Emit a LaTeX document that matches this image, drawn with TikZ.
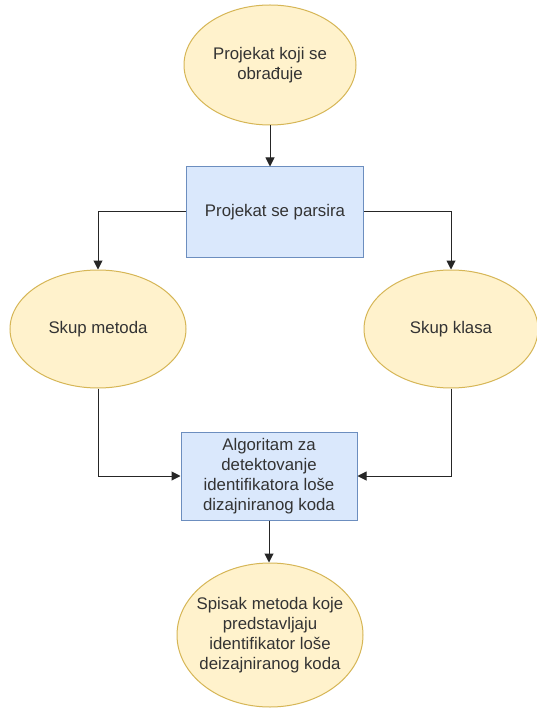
\documentclass[tikz,border=0pt]{standalone}
\usepackage{fontspec}
\setmainfont{Liberation Sans}
\usetikzlibrary{shapes.geometric,arrows.meta}
\definecolor{yfill}{HTML}{FFF2CC}
\definecolor{ydraw}{HTML}{D6B656}
\definecolor{bfill}{HTML}{DAE8FC}
\definecolor{bdraw}{HTML}{6C8EBF}
\definecolor{txt}{HTML}{333333}
\tikzset{
  lbl/.style={text=txt, align=center, inner sep=0pt, font=\fontsize{16.8}{20}\selectfont},
  yell/.style={ellipse, draw=ydraw, fill=yfill, line width=1pt, inner sep=0pt, lbl},
  bluebox/.style={rectangle, draw=bdraw, fill=bfill, line width=1pt, inner sep=0pt, lbl},
  conn/.style={draw=black!85, line width=1pt, -{Triangle[length=9pt,width=9pt]}}
}
\begin{document}
\begin{tikzpicture}[x=1pt,y=1pt]
\useasboundingbox (0,0) rectangle (536,-708);
\fill[white] (0,0) rectangle (536,-708);
\node[yell, minimum width=172pt, minimum height=120pt] (top) at (270,-65) {Projekat koji se\\obrađuje};
\node[bluebox, minimum width=177pt, minimum height=90pt] (parse) at (275,-212) {Projekat se parsira};
\node[yell, minimum width=176pt, minimum height=118pt] (met) at (98,-329) {Skup metoda};
\node[yell, minimum width=174pt, minimum height=118pt] (kla) at (451,-329) {Skup klasa};
\node[bluebox, minimum width=176pt, minimum height=88pt] (alg) at (269,-476) {Algoritam za\\detektovanje\\identifikatora loše\\dizajniranog koda};
\node[yell, minimum width=186pt, minimum height=144pt] (res) at (270,-635) {};
\node[lbl] (restext) at (res.center) {Spisak metoda koje\\predstavljaju\\identifikator loše\\deizajniranog koda};
\draw[conn] (top.south) -- (top.south |- parse.north);
\draw[conn] (parse.west) -| (met.north);
\draw[conn] (parse.east) -| (kla.north);
\draw[conn] (met.south) |- (alg.west);
\draw[conn] (kla.south) |- (alg.east);
\draw[conn] (alg.south) -- (alg.south |- res.north);
\end{tikzpicture}
\end{document}
